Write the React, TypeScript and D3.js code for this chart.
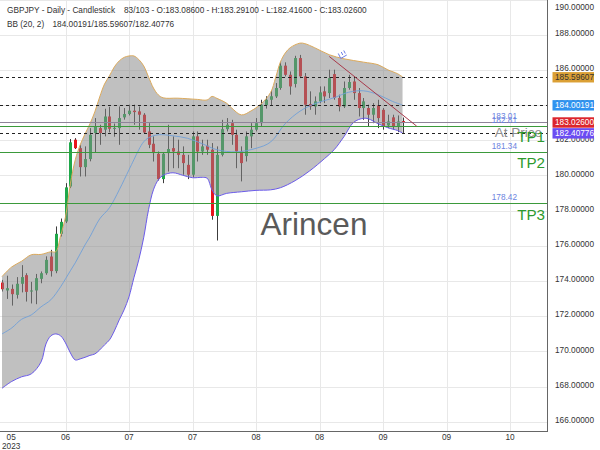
import React, { useEffect, useRef } from 'react';
import * as d3 from 'd3';

// daily candles, oldest first
const opens = [
  173.91, 173.46, 173.55, 173.21, 173.84, 174.33, 173.40, 173.46, 174.12, 174.44,
  175.39, 174.56, 176.68, 177.38, 179.37, 182.03, 181.55, 180.47, 180.93, 182.41,
  182.69, 182.60, 183.35, 182.65, 182.69, 183.30, 183.49, 183.68, 183.64, 183.45,
  182.50, 181.80, 181.23, 179.79, 181.27, 181.55, 181.36, 181.17, 180.60, 180.04,
  182.22, 181.36, 181.69, 181.46, 177.70, 181.17, 182.63, 182.97, 182.31, 181.36,
  181.10, 182.22, 182.60, 182.97, 184.00, 184.30, 184.49, 184.97, 186.24, 185.72,
  185.20, 186.67, 185.63, 184.06, 183.92, 184.21, 184.78, 184.68, 185.76, 184.40,
  183.92, 184.97, 185.34, 184.68, 183.83, 183.83, 183.45, 183.98, 183.73, 182.84,
  183.30, 182.79, 183.086,
];
const highs = [
  174.06, 174.30, 173.80, 174.22, 174.90, 174.44, 173.95, 174.40, 174.54, 175.40,
  175.77, 177.10, 177.55, 179.56, 182.07, 182.12, 181.74, 181.65, 182.69, 183.26,
  182.88, 183.79, 183.90, 182.95, 183.92, 183.83, 184.02, 184.02, 183.92, 183.54,
  182.97, 182.22, 181.36, 181.31, 182.88, 182.22, 182.03, 181.65, 181.17, 182.50,
  182.50, 182.03, 182.03, 181.84, 181.65, 183.16, 183.26, 183.16, 182.60, 181.65,
  182.50, 182.97, 183.26, 184.30, 184.50, 184.80, 185.25, 186.43, 186.43, 185.91,
  186.80, 186.85, 185.82, 184.78, 184.49, 185.06, 185.06, 186.01, 186.01, 184.59,
  185.34, 185.72, 185.63, 184.97, 184.40, 184.02, 184.11, 184.30, 183.83, 183.45,
  183.45, 183.41, 183.291,
];
const lows = [
  173.40, 172.98, 172.60, 173.00, 173.35, 172.83, 172.72, 172.68, 173.87, 174.35,
  174.25, 174.44, 176.53, 177.29, 179.28, 181.50, 179.94, 179.94, 180.80, 181.30,
  181.74, 182.22, 182.45, 182.20, 181.74, 183.17, 183.41, 182.88, 182.60, 182.41,
  181.55, 180.79, 179.71, 179.56, 180.22, 180.41, 180.41, 180.04, 179.79, 179.90,
  180.79, 181.17, 181.17, 177.48, 176.30, 181.08, 182.50, 181.74, 180.41, 179.66,
  180.79, 181.55, 182.50, 182.78, 183.80, 184.00, 184.40, 184.87, 185.63, 184.59,
  185.00, 185.53, 183.45, 183.73, 183.45, 184.10, 184.11, 184.40, 184.30, 183.64,
  183.83, 184.87, 184.30, 183.35, 183.16, 182.79, 182.97, 182.69, 182.60, 182.69,
  182.60, 182.46, 182.416,
];
const closes = [
  173.53, 173.59, 173.25, 173.84, 174.22, 173.38, 173.46, 174.16, 174.44, 175.20,
  174.56, 176.68, 177.36, 179.32, 181.88, 181.55, 180.47, 180.93, 182.31, 182.79,
  182.41, 183.35, 182.65, 182.70, 183.26, 183.49, 183.68, 183.60, 183.45, 182.44,
  181.74, 181.27, 179.79, 181.23, 181.50, 181.36, 181.17, 180.70, 180.04, 182.22,
  181.36, 181.65, 181.46, 177.70, 181.17, 182.63, 182.88, 182.31, 181.36, 180.70,
  182.22, 182.60, 182.97, 184.02, 184.30, 184.50, 184.97, 186.24, 185.72, 185.06,
  186.67, 185.63, 184.02, 183.92, 184.21, 184.72, 184.49, 185.53, 184.40, 183.92,
  184.97, 185.31, 184.68, 183.83, 184.21, 183.45, 183.83, 183.26, 182.79, 183.07,
  182.79, 183.07, 183.026,
];

// Bollinger (20, 2) as [bar, price]
const upperBand = [
  [0, 174.25], [2, 174.8], [4, 175.12], [6, 175.49], [8, 175.51], [10, 175.66], [11, 175.66],
  [12, 176.57], [13, 177.65], [14, 179.52], [15, 180.89], [16, 181.73], [17, 182.36], [18, 182.93],
  [19, 183.61], [20, 184.46], [21, 185.2], [22, 185.66], [23, 186.17], [24, 186.51], [25, 186.71],
  [26, 186.79], [27, 186.79], [28, 186.59], [29, 186.23], [30, 185.6], [31, 184.97], [32, 184.58],
  [33, 184.41], [36, 184.39], [40, 184.32], [42, 184.29], [43, 184.49], [44, 184.38], [46, 184.1],
  [47, 183.84], [49, 183.44], [51, 183.67], [53, 184.06], [55, 184.72], [56, 185.54], [57, 186.45],
  [58, 186.96], [59, 187.26], [61, 187.52], [62, 187.49], [64, 187.26], [67, 186.86], [70, 186.63],
  [74, 186.44], [77, 186.29], [79, 186.0], [81, 185.78], [82, 185.59607],
];
const middleBand = [
  [0, 170.99], [2, 171.33], [4, 171.82], [6, 172.07], [8, 172.53], [10, 172.93], [12, 173.67],
  [13, 174.12], [14, 174.58], [15, 175.03], [16, 175.54], [17, 176.05], [18, 176.51], [20, 177.53],
  [22, 178.16], [24, 179.18], [26, 180.32], [27, 180.89], [28, 181.46], [29, 181.91], [30, 182.14],
  [32, 182.31], [35, 182.25], [38, 182.11], [41, 181.8], [44, 181.46], [48, 181.34], [52, 181.54],
  [55, 181.9], [58, 182.95], [61, 183.65], [64, 184.07], [68, 184.42], [71, 184.73], [74, 184.81],
  [77, 184.59], [80, 184.2], [82, 184.00191],
];
const lowerBand = [
  [0, 167.9], [2, 168.29], [4, 168.55], [6, 168.72], [8, 169.4], [9, 170.42], [10, 170.88],
  [11, 170.99], [12, 170.88], [13, 170.48], [14, 169.91], [15, 169.51], [16, 169.57], [17, 169.66],
  [18, 169.77], [19, 169.85], [20, 170.08], [21, 170.37], [22, 170.65], [23, 171.16], [24, 171.79],
  [25, 172.36], [26, 173.1], [27, 174.18], [28, 175.2], [29, 176.45], [30, 178.05], [31, 179.18],
  [32, 179.75], [33, 180.01], [35, 180.15], [37, 180.01], [39, 179.87], [41, 179.89], [42, 179.84],
  [43, 179.18], [44, 178.84], [46, 178.98], [49, 179.07], [52, 179.15], [55, 179.18], [57, 179.3],
  [60, 179.7], [63, 180.26], [66, 180.95], [68, 181.46], [70, 182.2], [72, 183.02], [74, 183.25],
  [75, 183.22], [77, 182.94], [79, 182.71], [81, 182.55], [82, 182.40776],
];

// drawn levels
const levelValues = [183.01, 182.81, 181.34, 178.42];
const levelTags = ['At Price', 'TP1', 'TP2', 'TP3'];
const trendPoints = [[67, 186.76], [84.9, 182.8]];

const yTicks = [166, 168, 170, 172, 174, 176, 178, 180, 182, 184, 186, 188, 190];
const xTickBars = [0, 13, 26, 39, 52, 65, 78, 91, 104];
const xTickLabels = ['05', '06', '07', '07', '08', '08', '09', '09', '10'];

const FONT = 'Liberation Sans, Arial, sans-serif';

const App = () => {
  const svgRef = useRef(null);

  useEffect(() => {
    drawChart();
  }, []);

  const drawChart = () => {
    const svg = d3.select(svgRef.current);
    svg.selectAll('*').remove();

    const plotRight = 547;
    const plotBottom = 431;
    const n = opens.length;

    const x = d3.scaleLinear().domain([0, 104]).range([2, 510]);
    const y = d3.scaleLinear().domain([166, 190]).range([421.7, -0.5]);

    svg.append('rect').attr('width', 600).attr('height', 450).attr('fill', '#fff');

    svg.append('defs').append('clipPath').attr('id', 'plot-clip')
      .append('rect').attr('x', 0).attr('y', 0).attr('width', plotRight).attr('height', plotBottom);

    const plot = svg.append('g').attr('clip-path', 'url(#plot-clip)');

    // grid
    plot.selectAll('.hgrid').data(yTicks).enter().append('line')
      .attr('x1', 0).attr('x2', plotRight)
      .attr('y1', d => Math.round(y(d)) + 0.5).attr('y2', d => Math.round(y(d)) + 0.5)
      .attr('stroke', '#e8e8e8');
    plot.selectAll('.vgrid').data(xTickBars.slice(1)).enter().append('line')
      .attr('x1', d => Math.round(x(d)) + 0.5).attr('x2', d => Math.round(x(d)) + 0.5)
      .attr('y1', 0).attr('y2', plotBottom)
      .attr('stroke', '#e8e8e8');

    // watermark
    plot.append('text')
      .attr('x', 314).attr('y', 235)
      .attr('text-anchor', 'middle')
      .attr('font-family', FONT).attr('font-size', 31.5)
      .attr('fill', '#5a5a5a')
      .text('Arincen');

    // candles
    const bars = d3.range(n);
    const up = i => closes[i] >= opens[i];
    plot.selectAll('.wick').data(bars).enter().append('line')
      .attr('x1', i => Math.round(x(i)) + 0.5).attr('x2', i => Math.round(x(i)) + 0.5)
      .attr('y1', i => y(highs[i])).attr('y2', i => y(lows[i]))
      .attr('stroke', '#3c3c3c').attr('stroke-width', 1);
    plot.selectAll('.body').data(bars).enter().append('rect')
      .attr('x', i => Math.round(x(i)) - 1)
      .attr('width', 3)
      .attr('y', i => y(Math.max(opens[i], closes[i])))
      .attr('height', i => Math.max(1, Math.abs(y(opens[i]) - y(closes[i]))))
      .attr('fill', i => (up(i) ? '#1fa84a' : '#e8141c'));

    // band, drawn over the candles like the original
    const curve = d3.line()
      .x(d => x(d[0]))
      .y(d => y(d[1]))
      .curve(d3.curveCatmullRom.alpha(0.5));
    const upPath = curve(upperBand);
    const lowBack = curve(lowerBand.slice().reverse());
    plot.append('path')
      .attr('d', upPath + 'L' + lowBack.slice(1) + 'Z')
      .attr('fill', '#878787').attr('fill-opacity', 0.525);
    plot.append('path').attr('d', upPath)
      .attr('fill', 'none').attr('stroke', '#dcaa5c').attr('stroke-width', 1);
    plot.append('path').attr('d', curve(lowerBand))
      .attr('fill', 'none').attr('stroke', '#6b5bea').attr('stroke-width', 1);
    plot.append('path').attr('d', curve(middleBand))
      .attr('fill', 'none').attr('stroke', '#6f9fd8').attr('stroke-width', 0.9);

    // current band values as dashed lines
    const bbLast = [
      upperBand[upperBand.length - 1][1],
      middleBand[middleBand.length - 1][1],
      lowerBand[lowerBand.length - 1][1],
    ];
    plot.selectAll('.bbdash').data(bbLast).enter().append('line')
      .attr('x1', 0).attr('x2', plotRight)
      .attr('y1', d => Math.round(y(d)) + 0.5).attr('y2', d => Math.round(y(d)) + 0.5)
      .attr('stroke', '#222').attr('stroke-dasharray', '3,3');

    // target levels
    const levelColor = i => (i === 0 ? '#8f8499' : '#3b9a3b');
    plot.selectAll('.level').data(levelValues).enter().append('line')
      .attr('x1', 0).attr('x2', plotRight)
      .attr('y1', d => Math.round(y(d)) + 0.5).attr('y2', d => Math.round(y(d)) + 0.5)
      .attr('stroke', (d, i) => levelColor(i));
    plot.selectAll('.levelval').data(levelValues).enter().append('text')
      .attr('x', 517).attr('y', d => y(d) - 3.2)
      .attr('text-anchor', 'end')
      .attr('font-family', FONT).attr('font-size', 8.25)
      .attr('fill', '#6b84e0')
      .text(d => d.toFixed(2));
    plot.selectAll('.leveltag').data(levelValues).enter().append('text')
      .attr('x', (d, i) => (i === 0 ? 542 : 545))
      .attr('y', (d, i) => y(d) + (i === 0 ? 15 : 16.3))
      .attr('text-anchor', 'end')
      .attr('font-family', FONT)
      .attr('font-size', (d, i) => (i === 0 ? 13.5 : 15.2))
      .attr('fill', (d, i) => (i === 0 ? '#8c8c8c' : '#2e9a2e'))
      .text((d, i) => levelTags[i]);

    // trend line and its anchor mark
    plot.append('line')
      .attr('x1', x(trendPoints[0][0])).attr('y1', y(trendPoints[0][1]))
      .attr('x2', x(trendPoints[1][0])).attr('y2', y(trendPoints[1][1]))
      .attr('stroke', '#a8394a').attr('stroke-width', 1);
    const mx = x(trendPoints[0][0]) + 9;
    const my = y(trendPoints[0][1]) - 3;
    plot.append('path')
      .attr('d', `M${mx},${my} l2.5,5 l6,-3.5 M${mx + 3},${my - 1.5} l1.5,3 M${mx + 5.5},${my - 3} l1.5,3`)
      .attr('fill', 'none').attr('stroke', '#6a7be8').attr('stroke-width', 1);

    // axes
    svg.append('line')
      .attr('x1', plotRight + 0.5).attr('x2', plotRight + 0.5)
      .attr('y1', 0).attr('y2', plotBottom + 1)
      .attr('stroke', '#666');
    svg.append('line')
      .attr('x1', 0).attr('x2', plotRight + 1)
      .attr('y1', plotBottom + 0.5).attr('y2', plotBottom + 0.5)
      .attr('stroke', '#666');

    svg.selectAll('.ylab').data(yTicks).enter().append('text')
      .attr('x', 555).attr('y', d => Math.max(y(d) + 1.3, 9.7))
      .attr('font-family', FONT).attr('font-size', 8.25)
      .attr('fill', '#333')
      .text(d => d.toFixed(5));

    svg.selectAll('.xlab').data(xTickBars).enter().append('text')
      .attr('x', d => Math.max(x(d), 11.2)).attr('y', 440)
      .attr('text-anchor', 'middle')
      .attr('font-family', FONT).attr('font-size', 8.25)
      .attr('fill', '#333')
      .text((d, i) => xTickLabels[i]);
    svg.append('text')
      .attr('x', 11.2).attr('y', 448.5)
      .attr('text-anchor', 'middle')
      .attr('font-family', FONT).attr('font-size', 8.25)
      .attr('fill', '#333')
      .text('2023');

    // price badges on the axis
    const last = n - 1;
    const badges = [
      { v: bbLast[0], bg: '#dba035', fg: '#333' },
      { v: bbLast[1], bg: '#2f93f0', fg: '#fff' },
      { v: closes[last], bg: '#dc262d', fg: '#fff' },
      { v: bbLast[2], bg: '#6b4cf2', fg: '#fff' },
    ];
    const badge = svg.selectAll('.badge').data(badges).enter().append('g');
    badge.append('rect')
      .attr('x', 552.5).attr('width', 41.5)
      .attr('y', d => y(d.v) - 4.9).attr('height', 10.4)
      .attr('fill', d => d.bg);
    badge.append('text')
      .attr('x', 555).attr('y', d => y(d.v) + 2.9)
      .attr('font-family', FONT).attr('font-size', 8.25)
      .attr('fill', d => d.fg)
      .text(d => d.v.toFixed(5));

    // header
    const head = (tx, ty, s) => svg.append('text')
      .attr('x', tx).attr('y', ty)
      .attr('font-family', FONT).attr('font-size', 8.25)
      .attr('fill', '#333')
      .text(s);
    head(7, 13, 'GBPJPY - Daily - Candlestick');
    head(124, 13, `${n}/103 - O:${opens[last].toFixed(5)} - H:${highs[last].toFixed(5)} - L:${lows[last].toFixed(5)} - C:${closes[last].toFixed(5)}`);
    head(7, 27, 'BB (20, 2)');
    head(52.5, 27, `${bbLast[1].toFixed(5)}/${bbLast[0].toFixed(5)}/${bbLast[2].toFixed(5)}`);
  };

  return (
    <svg
      ref={svgRef}
      width={600}
      height={450}
      style={{ position: 'absolute', left: 0, top: 0, display: 'block' }}
    />
  );
};

export default App;
